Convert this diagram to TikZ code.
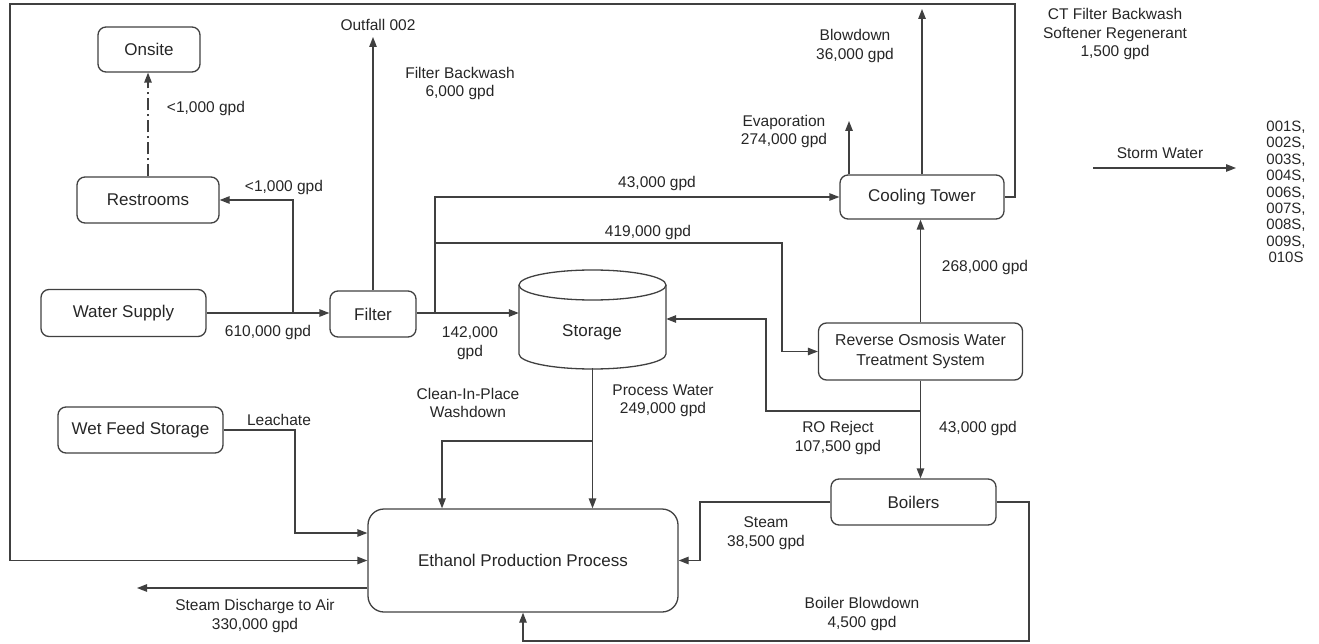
\documentclass[tikz,border=0pt]{standalone}
\usepackage{fontspec}
\setmainfont{Liberation Sans}
\usetikzlibrary{arrows.meta}
\begin{document}
\begin{tikzpicture}[x=1pt,y=-1pt,
  conn/.style={draw=black!75, line width=1.3pt},
  arr/.style={conn, -{Triangle[length=10pt,width=7.5pt]}},
  blk/.style={draw=black!75, line width=1.3pt, rounded corners=8pt, inner sep=0pt, font=\fontsize{17}{20}\selectfont, text=black!85},
  lbl/.style={font=\fontsize{15.5}{18.5}\selectfont, align=center, text=black!85, inner sep=0pt},
]
\useasboundingbox (0,0) rectangle (1319,644);

% nodes
\node[blk, minimum width=102pt, minimum height=45pt] (onsite) at (149,49.5) {Onsite};
\node[blk, minimum width=142pt, minimum height=46pt] (restrooms) at (148,200) {Restrooms};
\node[blk, minimum width=165pt, minimum height=47pt] (water) at (123.5,313) {Water Supply};
\node[blk, minimum width=86pt, minimum height=46pt] (filter) at (373,314) {Filter};
\node[blk, minimum width=204pt, minimum height=57pt, font=\fontsize{15.8}{20}\selectfont, align=center] (ro) at (920.5,351.5) {Reverse Osmosis Water\\Treatment System};
\node[blk, minimum width=164pt, minimum height=44pt] (ct) at (922,197) {Cooling Tower};
\node[blk, minimum width=165pt, minimum height=46pt] (wetfeed) at (140.5,430) {Wet Feed Storage};
\node[blk, minimum width=310pt, minimum height=103pt, rounded corners=16pt] (ethanol) at (523,560.5) {Ethanol Production Process};
\node[blk, minimum width=165pt, minimum height=46pt] (boilers) at (913.5,502) {Boilers};

% storage cylinder
\node[minimum width=147pt, minimum height=98pt, inner sep=0pt] (storage) at (592.5,319) {};
\draw[conn] (519,285) -- (519,354) arc[start angle=180,end angle=360,x radius=73.5pt,y radius=15pt] -- (666,285);
\draw[conn] (592.5,285) ellipse [x radius=73.5pt, y radius=15pt];
\node[font=\fontsize{17}{20}\selectfont, text=black!85] (storagetxt) at (592,332) {Storage};

% coordinates
\coordinate (jr) at (293,313);
\coordinate (outfall) at (373,37);
\coordinate (j1) at (435,313);
\coordinate (j2) at (435,243);
\coordinate (k2) at (782,243);
\coordinate (evap) at (849,121);
\coordinate (blow) at (922,9);
\coordinate (c1) at (1015,4);
\coordinate (c2) at (10,4);
\coordinate (j3) at (920.5,411);
\coordinate (k3) at (766,411);
\coordinate (j4) at (592.5,441);
\coordinate (k4) at (442,441);
\coordinate (k5) at (295,430);
\coordinate (k6) at (295,533);
\coordinate (sd) at (137,588);
\coordinate (k7) at (700,502);
\coordinate (k8) at (1029,641);
\coordinate (sw1) at (1093,168);
\coordinate (sw2) at (1236,168);

% connectors
\draw[arr, dash pattern=on 12pt off 4pt on 2pt off 4pt] (restrooms.north) -- (restrooms.north |- onsite.south);
\draw[arr] (water.east) -- (water.east -| filter.west);
\draw[arr] (jr) |- (restrooms.east);
\draw[arr] (filter.north) -- (outfall);
\draw[conn] (filter.east |- j1) -- (j1);
\draw[arr] (j1) -- (j1 -| storage.west);
\draw[arr] (j1) |- (ct.west);
\draw[arr] (j2) -- (k2) |- (ro.west);
\draw[arr] (ro.north) -- (ro.north |- ct.south);
\draw[arr] (evap |- ct.north) -- (evap);
\draw[arr] (ct.north) -- (blow);
\draw[arr] (ct.east) -| (c1) -- (c2) |- (ethanol.west);
\draw[arr] (ro.south) -- (ro.south |- boilers.north);
\draw[arr] (j3) -- (k3) |- (storage.east);
\draw[arr] (storage.south) -- (storage.south |- ethanol.north);
\draw[arr] (j4) -- (k4) -- (k4 |- ethanol.north);
\draw[arr] (wetfeed.east) -- (k5) -- (k6) -- (k6 -| ethanol.west);
\draw[arr] (sd -| ethanol.west) -- (sd);
\draw[arr] (boilers.west) -- (k7) |- (ethanol.east);
\draw[arr] (boilers.east) -| (k8) -| (ethanol.south);
\draw[arr] (sw1) -- (sw2);

% labels
\node[lbl] (l1) at (206,108) {<1,000 gpd};
\node[lbl] (l2) at (284,187) {<1,000 gpd};
\node[lbl] (l3) at (268,332) {610,000 gpd};
\node[lbl] (l4) at (378,25) {Outfall 002};
\node[lbl] (l5) at (460,83.5) {Filter Backwash\\6,000 gpd};
\node[lbl] (l6) at (470,343) {142,000\\gpd};
\node[lbl] (l7) at (657,183) {43,000 gpd};
\node[lbl] (l8) at (648,232) {419,000 gpd};
\node[lbl] (l9) at (784,131.5) {Evaporation\\274,000 gpd};
\node[lbl] (l10) at (855,46) {Blowdown\\36,000 gpd};
\node[lbl] (l11) at (1115,34) {CT Filter Backwash\\Softener Regenerant\\1,500 gpd};
\node[lbl] (l12) at (985,267) {268,000 gpd};
\node[lbl] (l13) at (1160,153) {Storm Water};
\node[lbl] (l14) at (468,403) {Clean-In-Place\\Washdown};
\node[lbl] (l15) at (663,401) {Process Water\\249,000 gpd};
\node[lbl] (l16) at (838,438) {RO Reject\\107,500 gpd};
\node[lbl] (l17) at (978,428) {43,000 gpd};
\node[lbl] (l18) at (279,420) {Leachate};
\node[lbl] (l19) at (766,533) {Steam\\38,500 gpd};
\node[lbl] (l20) at (255,616) {Steam Discharge to Air\\330,000 gpd};
\node[lbl] (l21) at (862,614) {Boiler Blowdown\\4,500 gpd};
\node[lbl, font=\fontsize{15}{16.4}\selectfont] (outfalls) at (1286,192) {001S,\\002S,\\003S,\\004S,\\006S,\\007S,\\008S,\\009S,\\010S};
\end{tikzpicture}
\end{document}
